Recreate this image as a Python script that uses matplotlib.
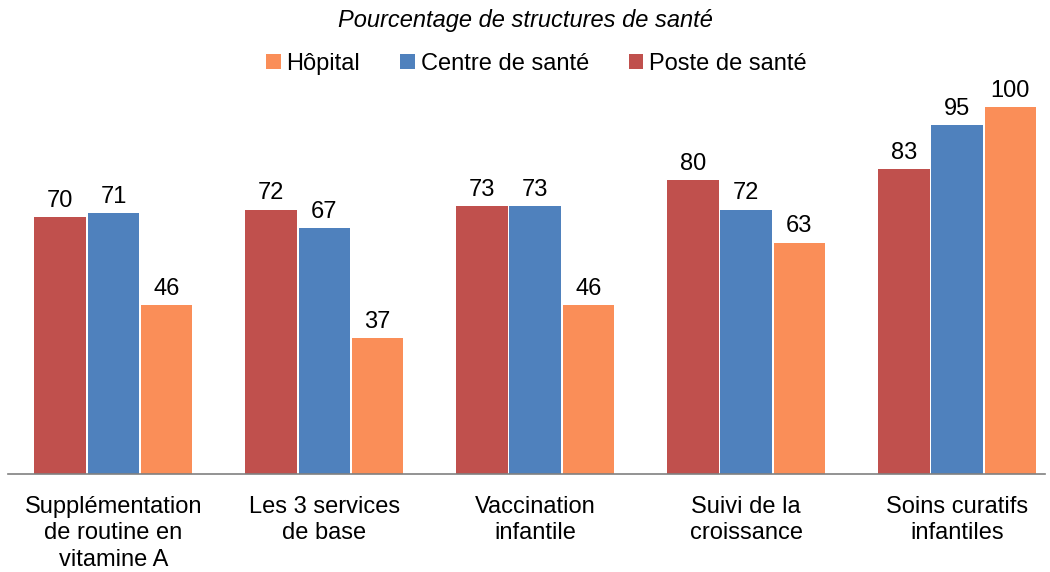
import matplotlib
matplotlib.use("Agg")
import matplotlib.pyplot as plt
import numpy as np

plt.rcParams['font.family'] = ['Liberation Sans', 'DejaVu Sans']

categories = ["Supplémentation\nde routine en\nvitamine A", "Les 3 services\nde base",
              "Vaccination\ninfantile", "Suivi de la\ncroissance", "Soins curatifs\ninfantiles"]
poste = [70, 72, 73, 80, 83]
centre = [71, 67, 73, 72, 95]
hopital = [46, 37, 46, 63, 100]

series = [("Poste de santé", poste, "#C0504D"),
          ("Centre de santé", centre, "#4F81BD"),
          ("Hôpital", hopital, "#FA8E58")]

fig = plt.figure(figsize=(10.5, 5.72), dpi=100)
ax = fig.add_axes([0.0076, 0.1713, 0.9874, 0.6416])

x = np.arange(len(categories))
w = 0.245
step = 0.252
handles = []
for i, (name, vals, col) in enumerate(series):
    pos = x + (i - 1) * step
    b = ax.bar(pos, vals, width=w, color=col, label=name)
    handles.append(b)
    for p, v in zip(pos, vals):
        ax.text(p, v + 1.5, str(v), ha="center", va="bottom", fontsize=17)

ax.set_xlim(-0.5, 4.415)
ax.set_ylim(0, 100)
ax.set_yticks([])
ax.set_xticks(x)
ax.set_xticklabels(categories, fontsize=17, linespacing=1.25)
ax.tick_params(axis="x", length=0, pad=16)
for s in ["top", "right", "left"]:
    ax.spines[s].set_visible(False)
ax.spines["bottom"].set_color("#808080")
ax.spines["bottom"].set_linewidth(1.2)

fig.text(0.5, 1 - 20 / 572, "Pourcentage de structures de santé", ha="center", va="center",
         fontsize=17, style="italic")
fig.legend(handles[::-1], [s[0] for s in series][::-1], loc="center", bbox_to_anchor=(0.511, 1 - 64 / 572),
           ncol=3, frameon=False, fontsize=17, handlelength=0.6, handleheight=0.6,
           handletextpad=0.25, columnspacing=1.7)

fig.savefig("out.png", dpi=100)
